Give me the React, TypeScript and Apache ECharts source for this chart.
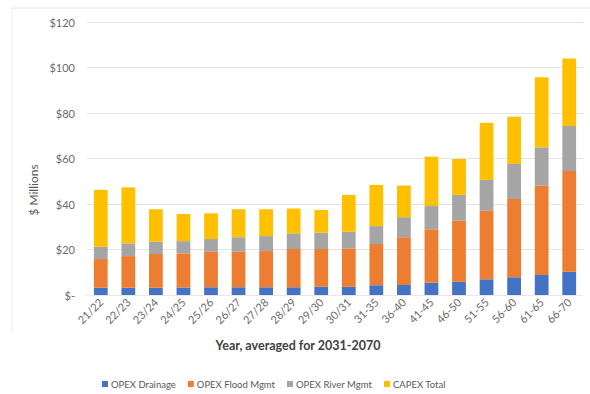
import React, { useEffect, useRef } from "react";
import * as echarts from "echarts";

const categories = [
  "21/22", "22/23", "23/24", "24/25", "25/26", "26/27", "27/28", "28/29", "29/30", "30/31",
  "31-35", "36-40", "41-45", "46-50", "51-55", "56-60", "61-65", "66-70",
];
const opexDrainage = [3.2, 3.2, 3.2, 3.3, 3.4, 3.4, 3.4, 3.4, 3.6, 3.6, 4.3, 4.4, 5.4, 5.8, 6.9, 7.8, 8.8, 10.2];
const opexFlood = [12.6, 13.9, 14.8, 15.0, 15.6, 15.6, 15.9, 16.8, 16.6, 16.9, 18.1, 21.0, 23.5, 26.9, 30.2, 34.4, 39.3, 44.3];
const opexRiver = [5.4, 5.6, 5.4, 5.4, 5.6, 6.4, 6.6, 6.9, 7.2, 7.3, 7.9, 8.8, 10.2, 11.3, 13.5, 15.4, 16.8, 19.8];
const capexTotal = [25.0, 24.6, 14.3, 11.9, 11.3, 12.3, 11.8, 10.9, 10.0, 16.2, 18.1, 13.9, 21.7, 15.8, 25.1, 20.8, 30.8, 29.7];
const seriesNames = ["OPEX Drainage", "OPEX Flood Mgmt", "OPEX River Mgmt", "CAPEX Total"];
const colors = ["#4472C4", "#ED7D31", "#A5A5A5", "#FFC000"];

const FONT = "Lato, 'Open Sans', sans-serif";

export default function App() {
  const ref = useRef<HTMLDivElement>(null);
  useEffect(() => {
    if (!ref.current) return;
    const chart = echarts.init(ref.current, null, { renderer: "svg" });
    const data = [opexDrainage, opexFlood, opexRiver, capexTotal];
    chart.setOption({
      animation: false,
      backgroundColor: "#ffffff",
      grid: { left: 87, right: 7, top: 22, bottom: 99, containLabel: false },
      legend: {
        data: seriesNames,
        top: 374,
        left: 97,
        icon: "rect",
        itemWidth: 6,
        itemHeight: 6,
        itemGap: 12,
        textStyle: { color: "#595959", fontSize: 9.5, fontFamily: FONT, padding: [0, 0, 0, -2] },
      },
      xAxis: {
        type: "category",
        data: categories,
        axisLine: { show: true, lineStyle: { color: "#E8E8E8" } },
        axisTick: { show: false },
        axisLabel: {
          interval: 0,
          rotate: 45,
          color: "#6A6A6A",
          fontSize: 11,
          fontFamily: FONT,
          margin: 5,
        },
      },
      yAxis: {
        type: "value",
        min: 0,
        max: 120,
        interval: 20,
        axisLine: { show: false },
        axisTick: { show: false },
        splitLine: { lineStyle: { color: "#E4E4E4" } },
        axisLabel: {
          color: "#6A6A6A",
          fontSize: 11,
          fontFamily: FONT,
          margin: 12,
          formatter: (v: number) => (v === 0 ? "$-" : "$" + v),
        },
      },
      graphic: [
        {
          type: "text",
          x: 33,
          y: 190,
          rotation: Math.PI / 2,
          style: {
            text: "$ Millions",
            fill: "#595959",
            font: `12px ${FONT}`,
            textAlign: "center",
            textVerticalAlign: "middle",
          },
        },
        {
          type: "text",
          x: 298,
          y: 345,
          style: {
            text: "Year, averaged for 2031-2070",
            fill: "#404040",
            font: `bold 12.5px ${FONT}`,
            textAlign: "center",
            textVerticalAlign: "middle",
          },
        },
        {
          type: "line",
          shape: { x1: 12, y1: 8, x2: 590, y2: 8 },
          style: { stroke: "#E6E6E6", lineWidth: 1 },
        },
        {
          type: "line",
          shape: { x1: 12, y1: 8, x2: 12, y2: 335 },
          style: { stroke: "#EEEEEE", lineWidth: 1 },
        },
      ],
      series: seriesNames.map((name, i) => ({
        name,
        type: "bar",
        stack: "total",
        barWidth: "50%",
        data: data[i],
        itemStyle: { color: colors[i] },
      })),
    });
    return () => chart.dispose();
  }, []);
  return <div ref={ref} style={{ width: 590, height: 394, position: "absolute", left: 0, top: 0 }} />;
}
